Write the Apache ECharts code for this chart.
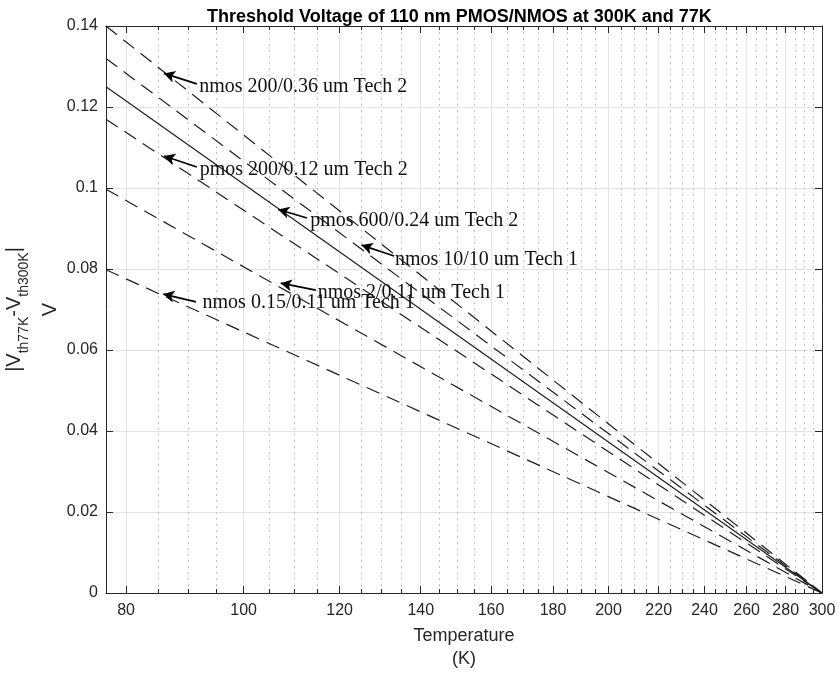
<!DOCTYPE html>
<html>
<head>
<meta charset="utf-8">
<script src="https://cdn.jsdelivr.net/npm/echarts@6/dist/echarts.min.js"></script>
<style>html,body{margin:0;padding:0;background:#fff}#c{width:839px;height:673px}</style>
</head>
<body>
<div id="c"></div>
<script>
// ---- data ----
var tempStart = 77, tempEnd = 300;
var lineNames = ['nmos 200/0.36 um Tech 2', 'nmos 10/10 um Tech 1', 'pmos 600/0.24 um Tech 2',
                 'pmos 200/0.12 um Tech 2', 'nmos 2/0.11 um Tech 1', 'nmos 0.15/0.11 um Tech 1'];
var v77 = [0.140, 0.132, 0.125, 0.117, 0.0997, 0.0798];   // |Vth77K - Vth300K| at 77 K
var v300 = [0, 0, 0, 0, 0, 0];
var solidLine = [false, false, true, false, false, false];
var xMajorTicks = [80, 100, 120, 140, 160, 180, 200, 220, 240, 260, 280, 300];
var xMinorTicks = [85, 90, 95, 105, 110, 115, 125, 130, 135, 145, 150, 155, 165, 170, 175,
                   185, 190, 195, 205, 210, 215, 225, 230, 235, 245, 250, 255, 265, 270, 275,
                   285, 290, 295];
// annotations: text anchor, arrow tail, arrow tip (data coords)
var annText = ['nmos 200/0.36 um Tech 2', 'pmos 200/0.12 um Tech 2', 'pmos 600/0.24 um Tech 2',
               'nmos 10/10 um Tech 1', 'nmos 2/0.11 um Tech 1', 'nmos 0.15/0.11 um Tech 1'];
var annAnchor = [[91.9, 0.1250], [92.0, 0.1044], [113.5, 0.0919], [133.3, 0.0822], [115.1, 0.0741], [92.5, 0.0716]];
var annTail = [[91.5, 0.1257], [91.5, 0.1052], [112.8, 0.0926], [133.1, 0.0832], [114.7, 0.0748], [91.35, 0.0719]];
var annTip = [[85.96, 0.1283], [85.96, 0.1079], [106.8, 0.0947], [125.1, 0.0859], [107.3, 0.0765], [85.85, 0.0738]];

// ---- chart ----
var axisColor = '#262626';
var sans = 'Liberation Sans';
var serif = 'Liberation Serif';
var chart = echarts.init(document.getElementById('c'), null, {renderer: 'canvas'});

function xAxisDef(pos, ticks, tickLen, showLine, showLabel, split) {
  return {
    type: 'log', logBase: 10, min: tempStart, max: tempEnd, position: pos,
    axisLine: {show: showLine, onZero: false, lineStyle: {color: axisColor, width: 1}},
    axisTick: {show: true, inside: true, length: tickLen, customValues: ticks, lineStyle: {color: axisColor, width: 1}},
    axisLabel: {show: showLabel, customValues: ticks, color: axisColor, fontFamily: sans, fontSize: 16, margin: 10},
    splitLine: split,
    minorTick: {show: false}, minorSplitLine: {show: false}
  };
}

var series = [];
for (var i = 0; i < v77.length; i++) {
  series.push({
    type: 'line', name: lineNames[i], xAxisIndex: 0, yAxisIndex: 0,
    data: [[tempStart, v77[i]], [tempEnd, v300[i]]],
    showSymbol: false, symbol: 'none', silent: true, animation: false,
    lineStyle: {color: '#1e1e1e', width: 1.2, type: solidLine[i] ? 'solid' : [14, 8]}
  });
}
// annotations series
var mlData = [], mpData = [];
for (var j = 0; j < annText.length; j++) {
  mlData.push([{coord: annTail[j], symbol: 'none'}, {coord: annTip[j], symbol: 'arrow'}]);
  mpData.push({coord: annAnchor[j], value: annText[j]});
}
series.push({
  type: 'line', xAxisIndex: 0, yAxisIndex: 0, data: [], silent: true, animation: false,
  markLine: {
    silent: true, animation: false, symbolSize: [9, 11],
    lineStyle: {color: '#000', width: 1.7, type: 'solid'},
    label: {show: false},
    data: mlData
  },
  markPoint: {
    silent: true, animation: false, symbol: 'circle', symbolSize: 0,
    label: {show: true, position: 'right', distance: 0, color: '#111', fontFamily: serif, fontSize: 20,
            formatter: function (p) { return p.value; }},
    data: mpData
  }
});

var option = {
  backgroundColor: '#fff',
  animation: false,
  title: {
    text: 'Threshold Voltage of 110 nm PMOS/NMOS at 300K and 77K',
    left: 202, top: 3,
    textStyle: {fontFamily: sans, fontWeight: 'bold', fontSize: 18, color: '#000'}
  },
  grid: {left: 106, right: 17, top: 26, bottom: 80, containLabel: false, outerBoundsMode: 'none'},
  xAxis: [
    Object.assign(xAxisDef('bottom', xMajorTicks, 7, true, true, {show: true, lineStyle: {color: '#e3e3e3', width: 1}}), {
      name: 'Temperature\n(K)', nameLocation: 'middle', nameGap: 32,
      nameTextStyle: {fontFamily: sans, fontSize: 18, color: axisColor, lineHeight: 23}
    }),
    xAxisDef('bottom', xMinorTicks, 4, false, false, {show: true, lineStyle: {color: '#c4c4c4', width: 1, type: [2, 4]}}),
    xAxisDef('top', xMajorTicks, 7, true, false, {show: false}),
    xAxisDef('top', xMinorTicks, 4, false, false, {show: false})
  ],
  yAxis: [
    {
      type: 'value', min: 0, max: 0.14, interval: 0.02, position: 'left',
      axisLine: {show: true, lineStyle: {color: axisColor}},
      axisTick: {show: true, inside: true, length: 7, lineStyle: {color: axisColor}},
      axisLabel: {color: axisColor, fontFamily: sans, fontSize: 16, margin: 8},
      splitLine: {show: true, lineStyle: {color: '#e3e3e3', width: 1}},
      name: '{a||V}{s|th77K}{a|-V}{s|th300K}{a||}\n{b|V}',
      nameLocation: 'middle', nameGap: 30, nameRotate: 90, nameMoveOverlap: false,
      nameTextStyle: {
        fontFamily: sans, color: axisColor, align: 'center',
        rich: {
          a: {fontFamily: sans, fontSize: 20, lineHeight: 20, verticalAlign: 'top', color: axisColor},
          s: {fontFamily: sans, fontSize: 14, lineHeight: 14, verticalAlign: 'top', padding: [13, 0, 0, 0], color: axisColor},
          b: {fontFamily: sans, fontSize: 20, lineHeight: 52, verticalAlign: 'middle', color: axisColor}
        }
      }
    },
    {
      type: 'value', min: 0, max: 0.14, interval: 0.02, position: 'right',
      axisLine: {show: true, lineStyle: {color: axisColor}},
      axisTick: {show: true, inside: true, length: 7, lineStyle: {color: axisColor}},
      axisLabel: {show: false},
      splitLine: {show: false}
    }
  ],
  series: series
};
chart.setOption(option);
</script>
</body>
</html>
